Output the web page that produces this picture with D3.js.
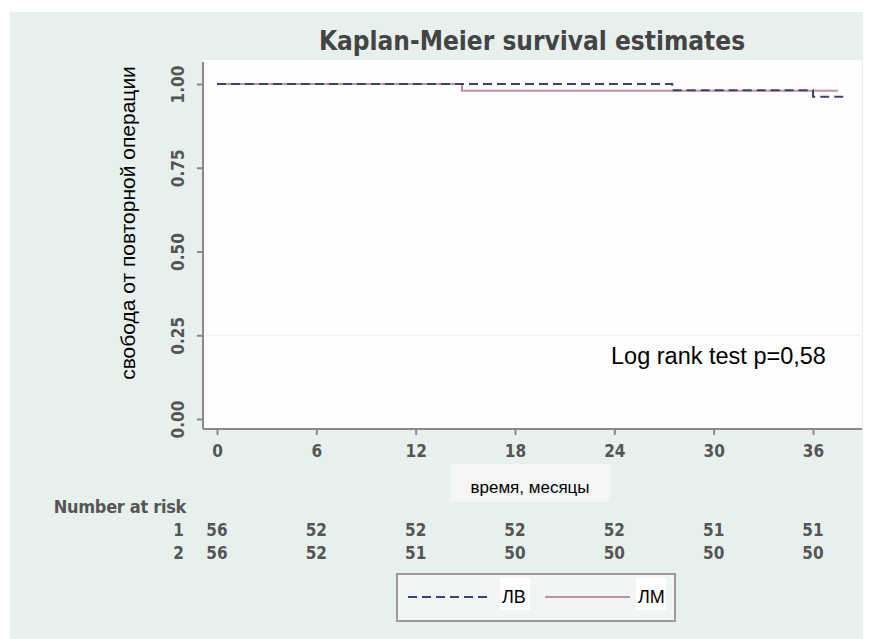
<!DOCTYPE html>
<html>
<head>
<meta charset="utf-8">
<script src="https://cdn.jsdelivr.net/npm/d3@7"></script>
<style>
  body { margin: 0; background: #fff; }
  svg { display: block; }
  .stata { font-family: "DejaVu Sans Condensed", "DejaVu Sans", sans-serif; fill: #555; font-weight: bold; }
  .overlay { font-family: Arial, "Liberation Sans", sans-serif; fill: #000; }
</style>
</head>
<body>
<svg id="chart" width="869" height="639"></svg>
<script>
// ticks & number at risk
const monthTicks = [0, 6, 12, 18, 24, 30, 36]
const yTicks = [0, 0.25, 0.5, 0.75, 1]
const riskGroups = ['1', '2']
const atRisk1 = [56, 52, 52, 52, 52, 51, 51]
const atRisk2 = [56, 52, 51, 50, 50, 50, 50]

// KM step points (time, survival)
const lvTime = [0, 27.5, 36, 37.9]
const lvSurv = [1, 0.981, 0.962, 0.962]
const lmTime = [0, 14.8, 37.5]
const lmSurv = [1, 0.98, 0.98]

const legendNames = ['ЛВ', 'ЛМ']
const lvColor = '#3b4272'
const lmColor = '#c2909d'

const svg = d3.select('#chart')

// grey-green graph region
svg.append('rect')
    .attr('x', 10).attr('y', 12)
    .attr('width', 853).attr('height', 627)
    .attr('fill', '#e8f0ed')

// white plot region
svg.append('rect')
    .attr('x', 203).attr('y', 60)
    .attr('width', 659).attr('height', 369)
    .attr('fill', '#fefefe')

const x = d3.scaleLinear().domain([0, 36]).range([217, 813])
const y = d3.scaleLinear().domain([0, 1]).range([419, 84])

// title
svg.append('text')
    .attr('class', 'stata')
    .attr('x', 532).attr('y', 50)
    .attr('text-anchor', 'middle')
    .style('font-size', '26px')
    .style('fill', '#444')
    .text('Kaplan-Meier survival estimates')

// y axis
const yAxis = svg.append('g')
    .attr('transform', 'translate(203,0)')
    .call(d3.axisLeft(y).tickValues(yTicks).tickFormat(d3.format('.2f')).tickSize(6))
yAxis.select('.domain').remove()
yAxis.append('line')
    .attr('x1', 0).attr('x2', 0).attr('y1', 62).attr('y2', 429)
yAxis.selectAll('line').attr('stroke', '#8a8a8a').attr('stroke-width', 2)
yAxis.selectAll('.tick text')
    .attr('class', 'stata')
    .attr('transform', 'rotate(-90)')
    .attr('x', 0)
    .attr('y', -19)
    .attr('dy', '0')
    .attr('text-anchor', 'middle')
    .style('font-size', '17px')

// x axis
const xAxis = svg.append('g')
    .attr('transform', 'translate(0,429)')
    .call(d3.axisBottom(x).tickValues(monthTicks).tickSize(6).tickPadding(10))
xAxis.select('.domain').remove()
xAxis.append('line')
    .attr('x1', 203).attr('x2', 862).attr('y1', 0).attr('y2', 0)
xAxis.selectAll('line').attr('stroke', '#8a8a8a').attr('stroke-width', 2)
xAxis.selectAll('.tick text')
    .attr('class', 'stata')
    .style('font-size', '17px')

// faint edge of the pasted white box at 0.25
svg.append('line')
    .attr('x1', 204).attr('x2', 860)
    .attr('y1', y(0.25)).attr('y2', y(0.25))
    .attr('stroke', '#eceeee').attr('stroke-width', 1)

// y axis title
svg.append('text')
    .attr('class', 'overlay')
    .attr('transform', 'translate(135,223) rotate(-90)')
    .attr('text-anchor', 'middle')
    .style('font-size', '21px')
    .text('свобода от повторной операции')

// curves
const km = d3.line()
    .x(d => x(d[0]))
    .y(d => y(d[1]))
    .curve(d3.curveStepAfter)

svg.append('path')
    .datum(lmTime.map((t, i) => [t, lmSurv[i]]))
    .attr('d', km)
    .attr('fill', 'none')
    .attr('stroke', lmColor)
    .attr('stroke-width', 2)

svg.append('path')
    .datum(lvTime.map((t, i) => [t, lvSurv[i]]))
    .attr('d', km)
    .attr('fill', 'none')
    .attr('stroke', lvColor)
    .attr('stroke-width', 2)
    .attr('stroke-dasharray', '9,5')

// log rank
svg.append('text')
    .attr('class', 'overlay')
    .attr('x', 611).attr('y', 364)
    .style('font-size', '23.5px')
    .text('Log rank test p=0,58')

// x axis title on its light box
svg.append('rect')
    .attr('x', 450).attr('y', 464)
    .attr('width', 160).attr('height', 38)
    .attr('fill', '#f3f6f5')
svg.append('text')
    .attr('class', 'overlay')
    .attr('x', 530).attr('y', 493)
    .attr('text-anchor', 'middle')
    .style('font-size', '17px')
    .text('время, месяцы')

// number at risk table
svg.append('text')
    .attr('class', 'stata')
    .attr('x', 186).attr('y', 513)
    .attr('text-anchor', 'end')
    .style('font-size', '18px')
    .style('letter-spacing', '-0.3px')
    .text('Number at risk')

const riskRows = [atRisk1, atRisk2]
const rowY = d3.scaleBand().domain(riskGroups).range([518, 564])

riskRows.forEach((row, r) => {
    const yy = rowY(riskGroups[r]) + rowY.bandwidth() / 2 + 6
    svg.append('text')
        .attr('class', 'stata')
        .attr('x', 184).attr('y', yy)
        .attr('text-anchor', 'end')
        .style('font-size', '17px')
        .text(riskGroups[r])
    svg.append('g').selectAll('text')
        .data(row)
        .join('text')
        .attr('class', 'stata')
        .attr('x', (d, i) => x(monthTicks[i]))
        .attr('y', yy)
        .attr('text-anchor', 'middle')
        .style('font-size', '17px')
        .text(d => d)
})

// legend
const legend = svg.append('g')
legend.append('rect')
    .attr('x', 397).attr('y', 574)
    .attr('width', 278).attr('height', 47)
    .attr('fill', '#f2f5f6')
    .attr('stroke', '#9a9a9a')
    .attr('stroke-width', 2)
legend.append('line')
    .attr('x1', 408).attr('x2', 490).attr('y1', 597).attr('y2', 597)
    .attr('stroke', lvColor).attr('stroke-width', 2).attr('stroke-dasharray', '9,5')
legend.append('line')
    .attr('x1', 545).attr('x2', 630).attr('y1', 597).attr('y2', 597)
    .attr('stroke', lmColor).attr('stroke-width', 2)
const legendX = [500, 636]
legendNames.forEach((name, i) => {
    legend.append('rect')
        .attr('x', legendX[i]).attr('y', 578)
        .attr('width', 30).attr('height', 32)
        .attr('fill', '#fff')
    legend.append('text')
        .attr('class', 'overlay')
        .attr('x', legendX[i] + 2).attr('y', 603)
        .style('font-size', '18px')
        .text(name)
})
</script>
</body>
</html>
